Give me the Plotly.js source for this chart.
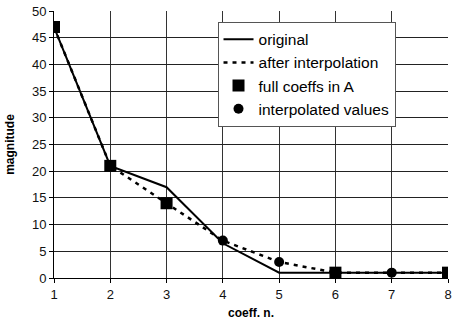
<!DOCTYPE html>
<html><head><meta charset="utf-8">
<script src="https://cdn.plot.ly/plotly-3.0.1.min.js"></script>
<style>html,body{margin:0;padding:0;background:#fff}#c{width:454px;height:320px}</style>
</head><body><div id="c"></div>
<script>
const coeffN = [1,2,3,4,5,6,7,8];
const original = [47,21,17,6.5,1,1,1,1];
const afterInterp = [47,21,14,7,3,1,1,1];
const fullX = [1,2,3,6,8];
const fullY = [47,21,14,1,1];
const interpX = [4,5,7];
const interpY = [7,3,1];

const traces = [
  {x:coeffN,y:original,mode:'lines',name:'original',legendgroup:'a',line:{color:'#000',width:2}},
  {x:coeffN,y:afterInterp,mode:'lines',name:'after interpolation',legendgroup:'b',line:{color:'#000',width:2.5,dash:'4px,5px'}},
  {x:fullX,y:fullY,mode:'markers',name:'full coeffs in A',legendgroup:'c',marker:{symbol:'square',size:12,color:'#000'}},
  {x:interpX,y:interpY,mode:'markers',name:'interpolated values',legendgroup:'d',marker:{symbol:'circle',size:10,color:'#000'}}
];
const font = {family:'Liberation Sans, Arial, sans-serif',size:13,color:'#111'};
const layout = {
  width:454,height:320,
  margin:{l:54,r:6,t:11,b:42},
  paper_bgcolor:'#fff',plot_bgcolor:'#fff',
  font:font,
  showlegend:true,
  legend:{x:0.415,y:0.96,xanchor:'left',yanchor:'top',bgcolor:'#fff',bordercolor:'#555',borderwidth:1,
    font:{family:font.family,size:15.5,color:'#000'},tracegroupgap:0},
  xaxis:{range:[1,8],tickvals:coeffN,showgrid:true,gridcolor:'#333',gridwidth:1,zeroline:false,
    showline:true,linecolor:'#000',linewidth:1,ticks:'outside',ticklen:4,tickcolor:'#000',
    title:{text:'<b>coeff. n.</b>',font:{size:12,color:'#000'},standoff:8},tickfont:{size:13}},
  yaxis:{range:[0,50],dtick:5,showgrid:true,gridcolor:'#222',gridwidth:1,zeroline:false,
    showline:true,linecolor:'#000',linewidth:1,ticks:'outside',ticklen:4,tickcolor:'#000',
    title:{text:'<b>magnitude</b>',font:{size:12,color:'#000'},standoff:14},tickfont:{size:13}}
};
Plotly.newPlot('c',traces,layout,{displayModeBar:false});
</script></body></html>
